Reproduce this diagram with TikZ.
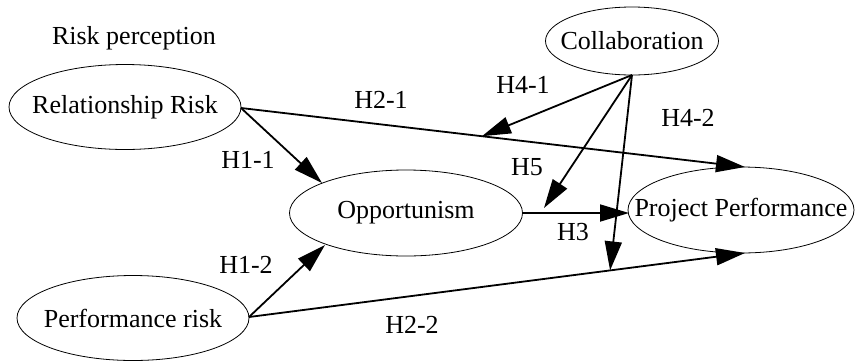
\documentclass[tikz,border=0pt]{standalone}
\usepackage{fontspec}
\setmainfont{Liberation Serif}
\usetikzlibrary{shapes.geometric,arrows.meta,calc}
\begin{document}
\begin{tikzpicture}[x=1pt,y=-1pt,
  ell/.style={draw,ellipse,line width=0.8pt,inner sep=0pt},
  lbl/.style={font=\fontsize{26}{30}\selectfont,inner sep=0pt},
  hyp/.style={font=\fontsize{26}{30}\selectfont,inner sep=0pt},
  arr/.style={line width=1.8pt,-{Triangle[length=29pt,width=17pt]}}]
\useasboundingbox (0,0) rectangle (855,360);
% ellipses
\node[ell,minimum width=232pt,minimum height=85pt] (rr) at (125,107) {};
\node[ell,minimum width=232pt,minimum height=85pt] (pr) at (133,318) {};
\node[ell,minimum width=233pt,minimum height=86pt] (opp) at (406,213) {};
\node[ell,minimum width=226pt,minimum height=86pt] (pp) at (741,210) {};
\node[ell,minimum width=173pt,minimum height=68pt] (col) at (632,41) {};
% texts
\node[lbl] (rrt) at (rr.center) {Relationship Risk};
\node[lbl] (prt) at (pr.center) {Performance risk};
\node[lbl] (oppt) at (opp.center) {Opportunism};
\node[lbl] (ppt) at (pp.center) {Project Performance};
\node[lbl] (colt) at (col.center) {Collaboration};
\node[lbl] (rp) at (134,38) {Risk perception};
% coordinates
\coordinate (rrE) at (241,108);
\coordinate (prE) at (249,317);
\coordinate (oppA) at (322,183);
\coordinate (oppB) at (325,245);
\coordinate (oppE) at (523,213);
\coordinate (ppW) at (629,213);
\coordinate (ppT) at (745,167);
\coordinate (ppB) at (745,253);
\coordinate (colS) at (632,75);
\coordinate (h41) at ($(rrE)!0.478!(ppT)$);
\coordinate (h42) at ($(prE)!0.728!(ppB)$);
\coordinate (h5) at (544,208);
% connectors
\draw[arr] (rrE) -- (oppA);
\draw[arr] (prE) -- (oppB);
\draw[arr] (rrE) -- (ppT);
\draw[arr] (prE) -- (ppB);
\draw[arr] (oppE) -- (ppW);
\draw[arr] (colS) -- (h41);
\draw[arr] (colS) -- (h5);
\draw[arr] (colS) -- (h42);
% labels
\node[hyp] (l21) at (381,100) {H2-1};
\node[hyp] (l11) at (248,160) {H1-1};
\node[hyp] (l41) at (523,85) {H4-1};
\node[hyp] (l42) at (688,118) {H4-2};
\node[hyp] (l5) at (527,167) {H5};
\node[hyp] (l3) at (573,232) {H3};
\node[hyp] (l12) at (246,265) {H1-2};
\node[hyp] (l22) at (412,325) {H2-2};
\end{tikzpicture}
\end{document}
